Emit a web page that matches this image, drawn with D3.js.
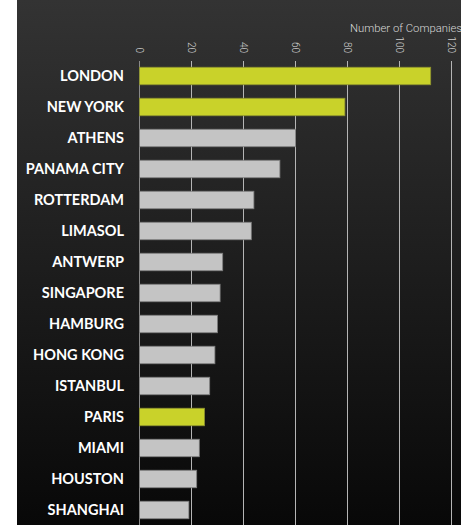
<!DOCTYPE html>
<html>
<head>
<meta charset="utf-8">
<script src="https://cdn.jsdelivr.net/npm/d3@7"></script>
<style>
  html, body { margin: 0; padding: 0; background: #ffffff; }
  svg { display: block; }
</style>
</head>
<body>
<svg id="chart" width="461" height="525"></svg>
<script>
const cities = ["LONDON","NEW YORK","ATHENS","PANAMA CITY","ROTTERDAM","LIMASOL","ANTWERP","SINGAPORE","HAMBURG","HONG KONG","ISTANBUL","PARIS","MIAMI","HOUSTON","SHANGHAI"];
const companies = [112, 79, 60, 54, 44, 43, 32, 31, 30, 29, 27, 25, 23, 22, 19];
const highlighted = ["LONDON","NEW YORK","PARIS"];
const ticks = [0, 20, 40, 60, 80, 100, 120];
const axisTitle = "Number of Companies";

const W = 461, H = 525;
const svg = d3.select("#chart");

const defs = svg.append("defs");
const grad = defs.append("linearGradient").attr("id","bg").attr("x1",0).attr("y1",0).attr("x2",0).attr("y2",1);
grad.append("stop").attr("offset","0%").attr("stop-color","#333333");
grad.append("stop").attr("offset","100%").attr("stop-color","#080808");

svg.append("rect").attr("x",17).attr("y",0).attr("width",W-17).attr("height",H).attr("fill","url(#bg)");

const x = d3.scaleLinear().domain([0,120]).range([139,451]);
const y = d3.scaleBand().domain(cities).range([60.5, 525.5]).paddingInner(0.435).paddingOuter(0.2175);

// gridlines
svg.append("g").selectAll("line").data(ticks).join("line")
  .attr("x1", d => Math.round(x(d)) + 0.5).attr("x2", d => Math.round(x(d)) + 0.5)
  .attr("y1", 61).attr("y2", H)
  .attr("stroke", d => d === 0 ? "#8a8a8a" : "#b5b5b5").attr("stroke-width", 1);

// tick labels (rotated)
svg.append("g").selectAll("text").data(ticks).join("text")
  .attr("transform", d => `translate(${Math.round(x(d)) - 3.5},53) rotate(90)`)
  .attr("text-anchor","end")
  .attr("font-family","Roboto, 'Open Sans', sans-serif")
  .attr("font-weight", 300)
  .attr("font-size", 10)
  .attr("fill","#d0d0d0")
  .text(d => d);

// axis title
svg.append("text")
  .attr("x", 350).attr("y", 32)
  .attr("font-family","Roboto, 'Open Sans', sans-serif")
  .attr("font-weight", 300)
  .attr("font-size", 11.3)
  .attr("fill","#d8d8d8")
  .text(axisTitle);

// bars
svg.append("g").selectAll("rect").data(cities).join("rect")
  .attr("x", x(0) + 0.5)
  .attr("y", d => y(d))
  .attr("width", (d,i) => x(companies[i]) - x(0))
  .attr("height", y.bandwidth())
  .attr("fill", d => highlighted.includes(d) ? "#c9d22a" : "#c4c4c4")
  .attr("stroke", d => highlighted.includes(d) ? "#8d9230" : "#7c7c7c")
  .attr("stroke-width", 0.8);

// category labels
svg.append("g").selectAll("text").data(cities).join("text")
  .attr("x", 124)
  .attr("y", d => y(d) + y.bandwidth()/2)
  .attr("dy","0.36em")
  .attr("text-anchor","end")
  .attr("font-family","Lato, 'Open Sans', sans-serif")
  .attr("font-weight", 700)
  .attr("font-size", 14.5)
  .attr("fill","#ffffff")
  .text(d => d);
</script>
</body>
</html>
